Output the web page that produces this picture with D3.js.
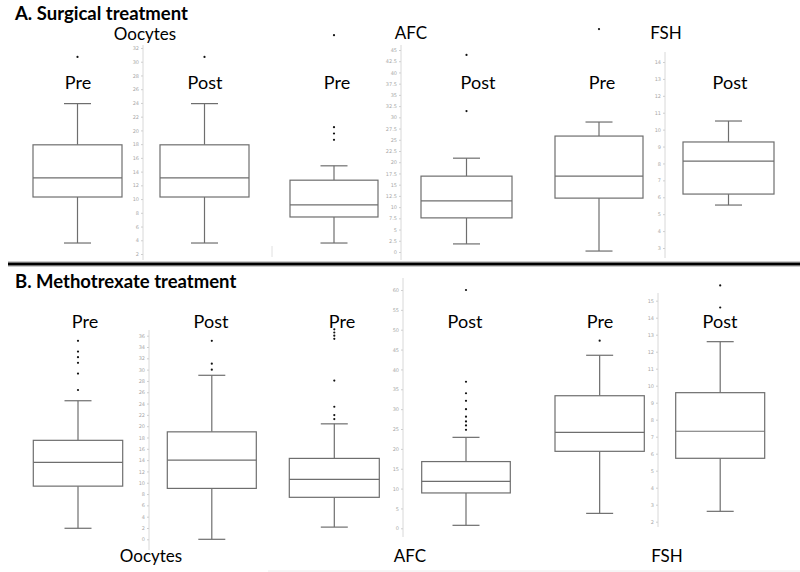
<!DOCTYPE html>
<html>
<head>
<meta charset="utf-8">
<script src="https://cdn.jsdelivr.net/npm/d3@7"></script>
<style>
  html, body { margin: 0; padding: 0; background: #fff; }
  svg { display: block; }
</style>
</head>
<body>
<svg id="chart" width="800" height="572"></svg>
<script>
// ---------------- DATA ----------------
const panelTitles = ["A. Surgical treatment", "B. Methotrexate treatment"];
const groupNames = ["Oocytes", "AFC", "FSH"];
const phaseNames = ["Pre", "Post"];
// box stats: [lower whisker, Q1, median, Q3, upper whisker]
const surgOocytesPre  = [3.6, 10.3, 13.1, 17.9, 23.9];
const surgOocytesPost = [3.6, 10.3, 13.1, 17.9, 23.9];
const surgAfcPre      = [2.0, 7.8, 10.5, 16.0, 19.2];
const surgAfcPost     = [1.8, 7.6, 11.4, 16.9, 20.9];
const surgFshPre      = [2.82, 5.95, 7.25, 9.62, 10.45];
const surgFshPost     = [5.54, 6.19, 8.14, 9.27, 10.51];
const mtxOocytesPre   = [1.95, 9.4, 13.6, 17.5, 24.5];
const mtxOocytesPost  = [0.0, 9.0, 14.0, 19.0, 29.0];
const mtxAfcPre       = [0.3, 7.8, 12.3, 17.6, 26.3];
const mtxAfcPost      = [0.75, 8.9, 11.8, 16.8, 22.9];
const mtxFshPre       = [2.49, 6.14, 7.26, 9.41, 11.79];
const mtxFshPost      = [2.61, 5.73, 7.32, 9.59, 12.59];
// outliers
const surgOocytesPreOut  = [30.7];
const surgOocytesPostOut = [30.7];
const surgAfcPreOut      = [48.3, 27.8, 26.4, 25.0];
const surgAfcPostOut     = [43.9, 31.4];
const surgFshPreOut      = [15.95];
const surgFshPostOut     = [];
const mtxOocytesPreOut   = [35.1, 33.2, 32.2, 31.2, 29.3, 26.4];
const mtxOocytesPostOut  = [35.1, 31.05, 30.0];
const mtxAfcPreOut       = [50.1, 49.3, 48.5, 47.7, 37.2, 30.6, 28.5, 27.5];
const mtxAfcPostOut      = [60.0, 36.9, 34.0, 32.1, 30.0, 28.1, 26.9, 25.9, 24.8];
const mtxFshPreOut       = [12.65];
const mtxFshPostOut      = [17.1, 15.9, 14.6];
// tick labels of the axes
const surgOocytesTicks = [2,4,6,8,10,12,14,16,18,20,22,24,26,28,30,32];
const surgAfcTicks     = [0,2.5,5,7.5,10,12.5,15,17.5,20,22.5,25,27.5,30,32.5,35,37.5,40,42.5,45];
const surgFshTicks     = [3,4,5,6,7,8,9,10,11,12,13,14];
const mtxOocytesTicks  = [0,2,4,6,8,10,12,14,16,18,20,22,24,26,28,30,32,34,36];
const mtxAfcTicks      = [0,5,10,15,20,25,30,35,40,45,50,55,60];
const mtxFshTicks      = [2,3,4,5,6,7,8,9,10,11,12,13,14,15];

// ---------------- LAYOUT ----------------
const FONT = "Lato, 'Open Sans', 'Noto Sans', sans-serif";
const svg = d3.select("#chart");

const plots = [
  // panel A
  { ticks: surgOocytesTicks, range: [254, 48], axisX: 143, lineY: [45, 260],
    boxes: [ {s: surgOocytesPre, o: surgOocytesPreOut, x0: 33, x1: 122},
             {s: surgOocytesPost, o: surgOocytesPostOut, x0: 160, x1: 249} ] },
  { ticks: surgAfcTicks, range: [252, 50], axisX: 401, lineY: [45, 260],
    boxes: [ {s: surgAfcPre, o: surgAfcPreOut, x0: 290, x1: 378},
             {s: surgAfcPost, o: surgAfcPostOut, x0: 421, x1: 512} ] },
  { ticks: surgFshTicks, range: [248, 62], axisX: 665, lineY: [52, 258],
    boxes: [ {s: surgFshPre, o: surgFshPreOut, x0: 555, x1: 643},
             {s: surgFshPost, o: surgFshPostOut, x0: 683, x1: 774} ] },
  // panel B
  { ticks: mtxOocytesTicks, range: [539.3, 335.7], axisX: 149, lineY: [330, 550],
    boxes: [ {s: mtxOocytesPre, o: mtxOocytesPreOut, x0: 33.3, x1: 122.7},
             {s: mtxOocytesPost, o: mtxOocytesPostOut, x0: 167.3, x1: 256.3} ] },
  { ticks: mtxAfcTicks, range: [528.3, 290], axisX: 403, lineY: [278, 537],
    boxes: [ {s: mtxAfcPre, o: mtxAfcPreOut, x0: 289.3, x1: 379.3},
             {s: mtxAfcPost, o: mtxAfcPostOut, x0: 421.7, x1: 510.3} ] },
  { ticks: mtxFshTicks, range: [521.7, 300.7], axisX: 658, lineY: [293, 527],
    boxes: [ {s: mtxFshPre, o: mtxFshPreOut, x0: 555, x1: 644.3},
             {s: mtxFshPost, o: mtxFshPostOut, x0: 675.7, x1: 764.7} ] }
];

const phaseLabelPos = [
  [[78, 82], [205, 82], [337, 82], [478, 82], [602, 82], [730, 82]],
  [[85, 321], [211, 321], [342, 321], [465, 321], [600, 321], [720, 321]]
];
const groupLabelPos = [
  [[145, 33], [411, 32], [666, 32]],
  [[151, 555], [410, 555], [667, 555]]
];
const titlePos = [[15, 20], [15, 288]];

// ---------------- DRAW ----------------
plots.forEach(p => {
  const y = d3.scaleLinear().domain(d3.extent(p.ticks)).range(p.range);
  // faint axis
  const g = svg.append("g").attr("transform", `translate(${p.axisX},0)`);
  g.append("line").attr("x1", 0).attr("x2", 0)
    .attr("y1", p.lineY[0]).attr("y2", p.lineY[1])
    .attr("stroke", "#d8d8d8").attr("stroke-width", 1);
  const axis = d3.axisLeft(y).tickValues(p.ticks).tickSize(2).tickPadding(2)
    .tickFormat(d => String(d));
  const ag = g.append("g").call(axis);
  ag.select(".domain").remove();
  ag.selectAll(".tick line").attr("stroke", "#cfcfcf");
  ag.selectAll(".tick text").attr("fill", "#a8a8a8")
    .style("font-size", "5px").style("font-family", "'DejaVu Sans', sans-serif");

  p.boxes.forEach(b => {
    const [lo, q1, med, q3, hi] = b.s;
    const cx = (b.x0 + b.x1) / 2;
    const bg = svg.append("g").attr("stroke", "#6e6e6e").attr("fill", "none")
      .attr("stroke-width", 1.2);
    // whiskers
    bg.append("line").attr("x1", cx).attr("x2", cx).attr("y1", y(hi)).attr("y2", y(q3));
    bg.append("line").attr("x1", cx).attr("x2", cx).attr("y1", y(q1)).attr("y2", y(lo));
    bg.append("line").attr("x1", cx - 13.5).attr("x2", cx + 13.5).attr("y1", y(hi)).attr("y2", y(hi));
    bg.append("line").attr("x1", cx - 13.5).attr("x2", cx + 13.5).attr("y1", y(lo)).attr("y2", y(lo));
    // box
    bg.append("rect").attr("x", b.x0).attr("y", y(q3))
      .attr("width", b.x1 - b.x0).attr("height", y(q1) - y(q3)).attr("fill", "#fff");
    bg.append("line").attr("x1", b.x0).attr("x2", b.x1).attr("y1", y(med)).attr("y2", y(med));
    // outliers
    svg.append("g").selectAll("circle").data(b.o).join("circle")
      .attr("cx", cx).attr("cy", d => y(d)).attr("r", 1.1).attr("fill", "#111");
  });
});

// phase labels
phaseLabelPos.forEach(row => {
  row.forEach((pos, i) => {
    svg.append("text").attr("x", pos[0]).attr("y", pos[1])
      .attr("text-anchor", "middle").attr("dominant-baseline", "central")
      .style("font-family", FONT).style("font-size", "18px").attr("fill", "#000")
      .text(phaseNames[i % 2]);
  });
});
// group labels
groupLabelPos.forEach(row => {
  row.forEach((pos, i) => {
    svg.append("text").attr("x", pos[0]).attr("y", pos[1])
      .attr("text-anchor", "middle").attr("dominant-baseline", "central")
      .style("font-family", FONT).style("font-size", "17px").attr("fill", "#000")
      .text(groupNames[i]);
  });
});
// panel titles
panelTitles.forEach((t, i) => {
  svg.append("text").attr("x", titlePos[i][0]).attr("y", titlePos[i][1])
    .style("font-family", FONT).style("font-size", "18.5px").style("font-weight", "bold")
    .attr("fill", "#000").text(t);
});

// separator between panels
svg.append("line").attr("x1", 8).attr("x2", 800).attr("y1", 264).attr("y2", 264)
  .attr("stroke", "#9a9a9a").attr("stroke-width", 5);
svg.append("line").attr("x1", 8).attr("x2", 800).attr("y1", 264).attr("y2", 264)
  .attr("stroke", "#000").attr("stroke-width", 2.6);
// faint crop fragments
svg.append("line").attr("x1", 272).attr("x2", 272).attr("y1", 246).attr("y2", 257)
  .attr("stroke", "#e0e0e0").attr("stroke-width", 1);
svg.append("line").attr("x1", 268).attr("x2", 800).attr("y1", 571).attr("y2", 571)
  .attr("stroke", "#ececec").attr("stroke-width", 1);
</script>
</body>
</html>
